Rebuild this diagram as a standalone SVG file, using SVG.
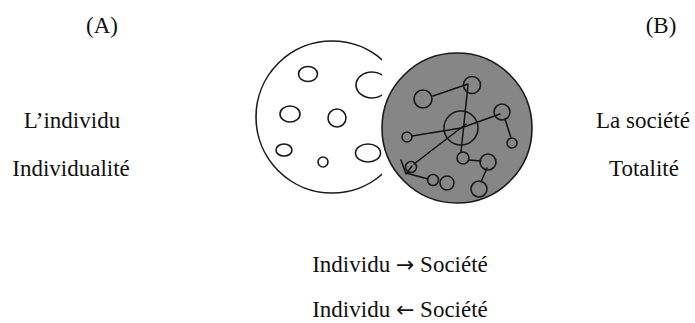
<svg xmlns="http://www.w3.org/2000/svg" width="695" height="323" viewBox="0 0 695 323">
<style>
text{font-family:"Liberation Serif","Times New Roman",serif;font-size:23px;fill:#111;text-anchor:middle}
.arr{font-family:"DejaVu Sans",sans-serif;font-size:22px}
.o{fill:none;stroke:#1a1a1a;stroke-width:1.6}
.w{fill:#fff;stroke:#1a1a1a;stroke-width:1.6}
.g{fill:#868686;stroke:#1a1a1a;stroke-width:1.6}
.l{fill:none;stroke:#111;stroke-width:1.5;stroke-linecap:round;stroke-linejoin:round}
</style>
<defs>
<clipPath id="clipLeft"><rect x="0" y="0" width="382" height="323"/></clipPath>
</defs>
<rect width="695" height="323" fill="#fff"/>
<g id="labelA"><text x="102" y="33">(A)</text></g>
<g id="labelB"><text x="661" y="33">(B)</text></g>
<g id="individu"><text x="72" y="128">L’individu</text><text x="71" y="176">Individualité</text></g>
<g id="societe"><text x="643" y="128">La société</text><text x="644" y="176">Totalité</text></g>
<g id="relations"><text x="400" y="272">Individu <tspan class="arr">→</tspan> Société</text><text x="400" y="317">Individu <tspan class="arr">←</tspan> Société</text></g>
<g id="individus" clip-path="url(#clipLeft)">
<circle class="w" cx="332" cy="117" r="76"/>
<ellipse class="o" cx="308" cy="74" rx="9.5" ry="7.5"/>
<ellipse class="o" cx="372" cy="85" rx="16" ry="13"/>
<ellipse class="o" cx="290" cy="114" rx="10" ry="8"/>
<circle class="o" cx="337" cy="118" r="9"/>
<ellipse class="o" cx="284" cy="150" rx="8" ry="6"/>
<circle class="o" cx="323" cy="162" r="5"/>
<ellipse class="o" cx="368" cy="153" rx="12.5" ry="9"/>
</g>
<g id="societe-cercle">
<circle class="g" cx="457" cy="128" r="75"/>
</g>
<g id="connectors">
<line class="l" x1="433" y1="96" x2="468" y2="84"/>
<line class="l" x1="468" y1="85" x2="461" y2="152"/>
<polyline class="l" points="412,136 461,128 500,114"/>
<line class="l" x1="414" y1="164" x2="466" y2="124"/>
<line class="l" x1="505" y1="119" x2="511" y2="138"/>
<line class="l" x1="469" y1="160" x2="481" y2="161"/>
<line class="l" x1="487" y1="168" x2="481" y2="182"/>
<polyline class="l" points="401,160 406,174 412,166"/>
<line class="l" x1="406" y1="173" x2="428" y2="179"/>
</g>
<g id="membres">
<circle class="o" cx="461" cy="128" r="17"/>
<circle class="o" cx="472" cy="85" r="8.5"/>
<circle class="o" cx="423" cy="99" r="9"/>
<circle class="o" cx="502" cy="112" r="8"/>
<circle class="o" cx="512" cy="143" r="5"/>
<circle class="o" cx="407" cy="137" r="5"/>
<circle class="o" cx="463" cy="158" r="6"/>
<circle class="o" cx="488" cy="162" r="8"/>
<circle class="o" cx="479" cy="189" r="8"/>
<circle class="o" cx="411" cy="167" r="5.5"/>
<circle class="o" cx="433" cy="180" r="5.5"/>
<circle class="o" cx="447" cy="183" r="7"/>
</g>
</svg>
